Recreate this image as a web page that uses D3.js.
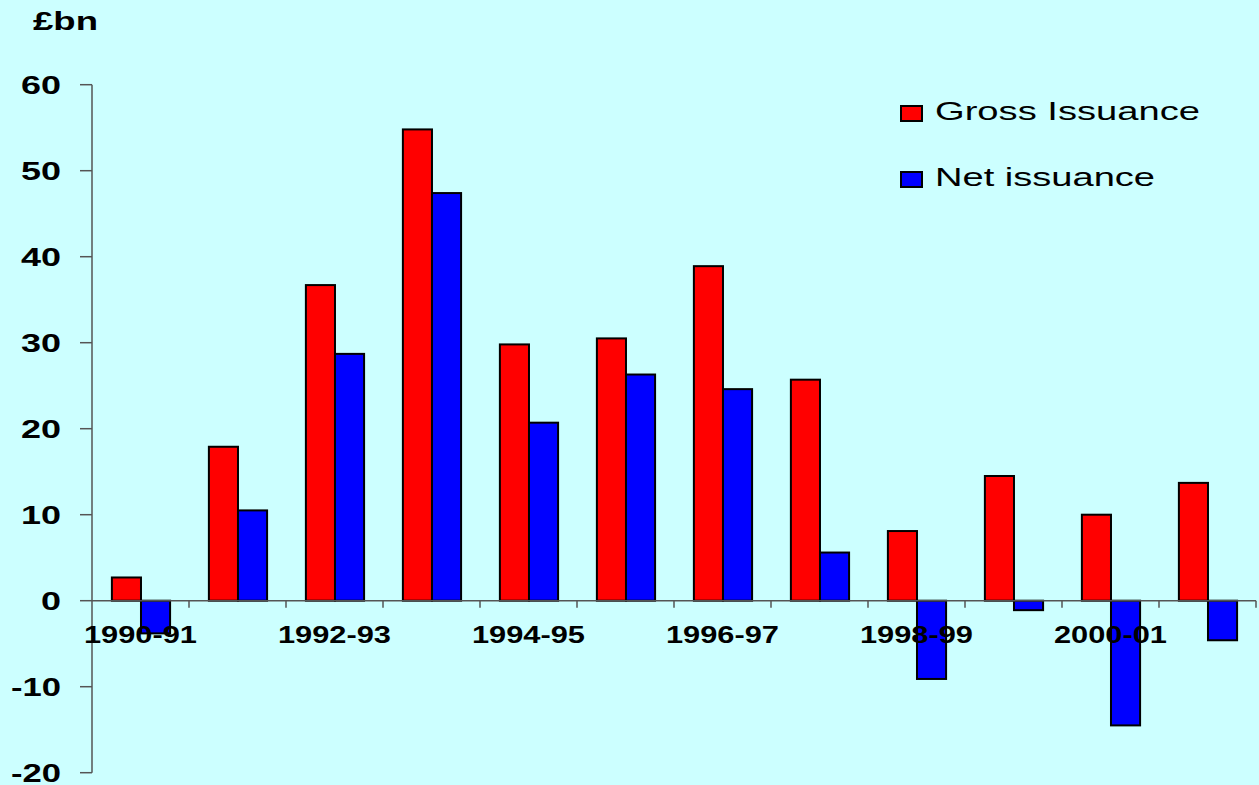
<!DOCTYPE html>
<html>
<head>
<meta charset="utf-8">
<script src="https://cdn.jsdelivr.net/npm/d3@7"></script>
<style>
  html, body { margin: 0; padding: 0; background: #ccffff; }
  text { font-family: Arial, "Liberation Sans", sans-serif; }
</style>
</head>
<body>
<div id="vis"></div>
<script>
// Data (£bn)
const years = ["1990-91", "1991-92", "1992-93", "1993-94", "1994-95", "1995-96",
  "1996-97", "1997-98", "1998-99", "1999-00", "2000-01", "2001-02"];
const gross = [2.7, 17.9, 36.7, 54.8, 29.8, 30.5, 38.9, 25.7, 8.1, 14.5, 10.0, 13.7];
const net = [-3.8, 10.5, 28.7, 47.4, 20.7, 26.3, 24.6, 5.6, -9.1, -1.1, -14.5, -4.6];
const yTicks = [-20, -10, 0, 10, 20, 30, 40, 50, 60];
const seriesNames = ["Gross Issuance", "Net issuance"];
const seriesColors = ["#ff0000", "#0000ff"];

const W = 1259, H = 785;
const plot = { left: 92, right: 1256, top: 84.7, bottom: 772.7 };

const svg = d3.select("#vis").append("svg")
  .attr("width", W).attr("height", H);

svg.append("rect").attr("width", W).attr("height", H).attr("fill", "#ccffff");

const x = d3.scaleBand().domain(years).range([plot.left, plot.right]).padding(0);
const y = d3.scaleLinear().domain([-20, 60]).range([plot.bottom, plot.top]);

const step = x.step();
const barW = step * 0.3;

// bars
[gross, net].forEach((vals, si) => {
  svg.append("g").selectAll("rect")
    .data(years)
    .join("rect")
    .attr("x", (d) => x(d) + step * 0.205 + si * barW)
    .attr("y", (d, i) => y(Math.max(0, vals[i])))
    .attr("width", barW)
    .attr("height", (d, i) => Math.abs(y(vals[i]) - y(0)))
    .attr("fill", seriesColors[si])
    .attr("stroke", "#000")
    .attr("stroke-width", 2);
});

// y axis
const yAxis = svg.append("g").attr("transform", `translate(${plot.left},0)`);
yAxis.append("line")
  .attr("x1", 0).attr("x2", 0)
  .attr("y1", y(60)).attr("y2", y(-20))
  .attr("stroke", "#555").attr("stroke-width", 1.5);
yAxis.selectAll(".tick")
  .data(yTicks)
  .join("line")
  .attr("class", "tick")
  .attr("x1", -12).attr("x2", 0)
  .attr("y1", (d) => y(d)).attr("y2", (d) => y(d))
  .attr("stroke", "#555").attr("stroke-width", 1.5);
yAxis.selectAll(".lbl")
  .data(yTicks)
  .join("text")
  .attr("class", "lbl")
  .attr("x", -31)
  .attr("y", (d) => y(d) + 9)
  .attr("text-anchor", "end")
  .attr("font-size", 25)
  .attr("font-weight", "bold")
  .attr("textLength", (d) => String(d).length * 20 - (d < 0 ? 10 : 0))
  .attr("lengthAdjust", "spacingAndGlyphs")
  .text((d) => d);

// x axis (zero line)
svg.append("line")
  .attr("x1", plot.left).attr("x2", plot.right)
  .attr("y1", y(0)).attr("y2", y(0))
  .attr("stroke", "#555").attr("stroke-width", 1.5);
svg.append("g").selectAll("line")
  .data(years)
  .join("line")
  .attr("x1", (d) => x(d) + step).attr("x2", (d) => x(d) + step)
  .attr("y1", y(0)).attr("y2", y(0) + 7)
  .attr("stroke", "#555").attr("stroke-width", 1.5);
svg.append("g").selectAll("text")
  .data(years.filter((d, i) => i % 2 === 0))
  .join("text")
  .attr("x", (d) => x(d) + step / 2)
  .attr("y", y(0) + 42)
  .attr("text-anchor", "middle")
  .attr("font-size", 23)
  .attr("font-weight", "bold")
  .attr("textLength", 113)
  .attr("lengthAdjust", "spacingAndGlyphs")
  .text((d) => d);

// unit label
svg.append("text")
  .attr("x", 33).attr("y", 30)
  .attr("font-size", 25)
  .attr("font-weight", "bold")
  .attr("textLength", 65)
  .attr("lengthAdjust", "spacingAndGlyphs")
  .text("£bn");

// legend
const legend = svg.append("g");
const legendY = [106, 172];
const legendLen = [265, 220];
seriesNames.forEach((name, i) => {
  legend.append("rect")
    .attr("x", 901).attr("y", legendY[i])
    .attr("width", 21).attr("height", 15)
    .attr("fill", seriesColors[i])
    .attr("stroke", "#000").attr("stroke-width", 2);
  legend.append("text")
    .attr("x", 935).attr("y", legendY[i] + 14)
    .attr("font-size", 25)
    .attr("textLength", legendLen[i])
    .attr("lengthAdjust", "spacingAndGlyphs")
    .text(name);
});
</script>
</body>
</html>
